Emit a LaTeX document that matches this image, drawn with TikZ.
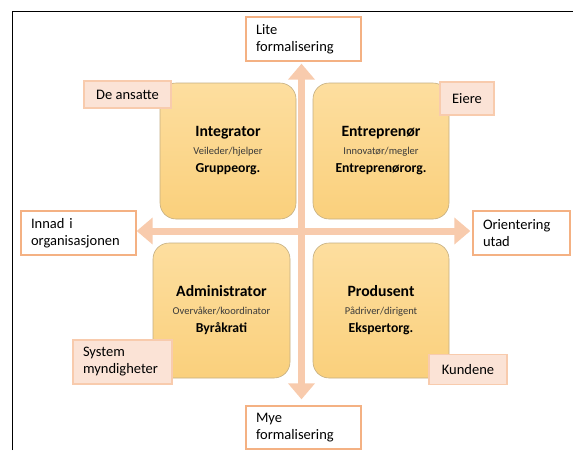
\documentclass[tikz,border=0pt]{standalone}
\usepackage{fontspec}
\setmainfont{Carlito}
\usetikzlibrary{arrows.meta}

\definecolor{arrowsalmon}{HTML}{F8CBAD}
\definecolor{labelframe}{HTML}{F4B183}
\definecolor{notefill}{HTML}{FBE3D6}
\definecolor{quadtop}{HTML}{FDDE9F}
\definecolor{quadbottom}{HTML}{FAD07C}
\definecolor{quadline}{HTML}{C4AE82}
\definecolor{rolegray}{HTML}{3A3A3A}

\newcommand{\quadtext}[3]{{\fontsize{15.7}{18}\selectfont\bfseries #1}\\{\fontsize{10.5}{18}\selectfont\color{rolegray}#2}\\{\bfseries #3}}

\tikzset{
	quadbox/.style={draw=quadline, line width=0.6pt, rounded corners=16pt, top color=quadtop, bottom color=quadbottom,
		align=center, inner sep=0pt, font=\fontsize{13.7}{18}\selectfont},
	axislabel/.style={draw=labelframe, line width=1.3pt, fill=white, align=left, inner xsep=10pt, inner ysep=0pt,
		font=\fontsize{14.5}{17}\selectfont},
	notebox/.style={draw=arrowsalmon, line width=1.3pt, fill=notefill, align=left, inner xsep=10pt, inner ysep=0pt,
		font=\fontsize{14.5}{17}\selectfont},
	bigarrow/.style={draw=arrowsalmon, line width=7pt, {Triangle[width=26pt,length=16pt]}-{Triangle[width=26pt,length=16pt]}}
}

\begin{document}
\begin{tikzpicture}[x=1pt,y=-1pt]
	\useasboundingbox (0,0) rectangle (573,450);
	%frame
		\draw[line width=1.6pt] (12.5,450) -- (12.5,11.5) -- (573,11.5);
	%axis labels
		\node[axislabel, text width=95pt, minimum height=44pt] (lite) at (303.5,39) {Lite\\formalisering};
		\node[axislabel, text width=95pt, minimum height=43pt] (mye) at (303.5,427.5) {Mye\\formalisering};
		\node[axislabel, text width=95pt, minimum height=44pt] (innad) at (78.5,233) {Innad i\\organisasjonen};
		\node[axislabel, text width=77pt, minimum height=44pt] (orient) at (521.5,233) {Orientering\\utad};
	%axes
		\draw[bigarrow, shorten <=6pt, shorten >=2pt] ([xshift=-2pt]mye.north) -- ([xshift=-2pt]lite.south);
		\draw[bigarrow, shorten >=2pt] ([yshift=2pt]innad.east) -- ([yshift=2pt]orient.west);
	%quadrants
		\node[quadbox, minimum width=136pt, minimum height=136pt] (integrator) at (228,151)
			{\quadtext{Integrator}{Veileder/hjelper}{Gruppeorg.}};
		\node[quadbox, minimum width=136pt, minimum height=136pt] (entreprenor) at (381,151)
			{\quadtext{Entreprenør}{Innovatør/megler}{Entreprenørorg.}};
		\node[quadbox, minimum width=137pt, minimum height=135pt] (administrator) at (221.5,310.5)
			{\quadtext{Administrator}{Overvåker/koordinator}{Byråkrati}};
		\node[quadbox, minimum width=136pt, minimum height=135pt] (produsent) at (381,310.5)
			{\quadtext{Produsent}{Pådriver/dirigent}{Ekspertorg.}};
	%stakeholders
		\node[notebox, minimum width=87pt, minimum height=27pt] (ansatte) at (127.5,94.5) {De ansatte};
		\node[notebox, minimum width=54pt, minimum height=33pt] (eiere) at (467,98.5) {Eiere};
		\node[notebox, text width=79pt, minimum height=44pt] (system) at (122.5,362) {System\\myndigheter};
		\node[notebox, minimum width=78pt, minimum height=30pt] (kundene) at (468,369.5) {Kundene};
\end{tikzpicture}
\end{document}
